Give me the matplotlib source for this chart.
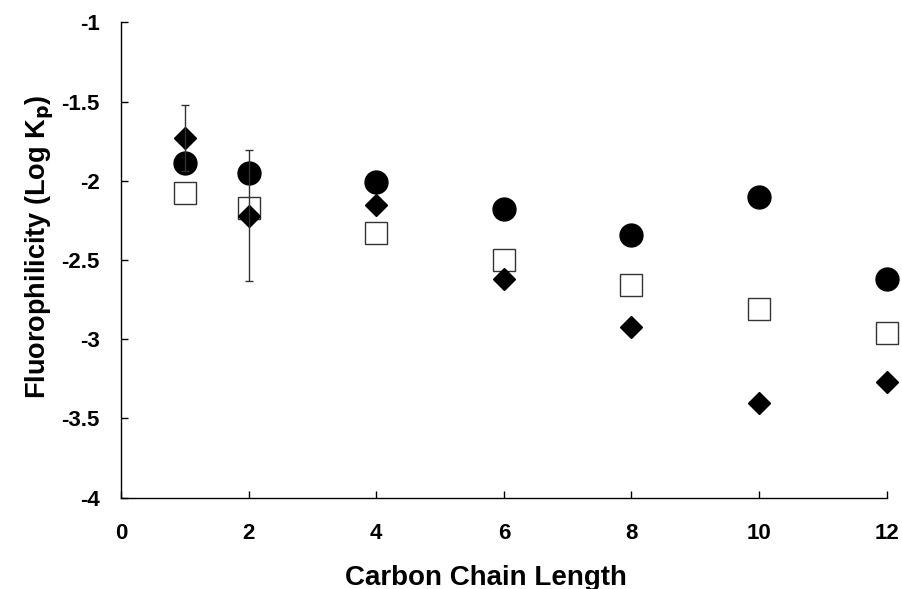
import matplotlib.pyplot as plt
import numpy as np

plt.rcParams['font.family'] = ['Liberation Sans', 'DejaVu Sans']
plt.rcParams['font.weight'] = 'bold'

# carbon chain length
chain = [1, 2, 4, 6, 8, 10, 12]

# log Kp for the three series
circles = [-1.89, -1.95, -2.01, -2.18, -2.34, -2.10, -2.62]
squares = [-2.08, -2.17, -2.33, -2.50, -2.66, -2.81, -2.96]
diamonds = [-1.73, -2.22, -2.15, -2.62, -2.92, -3.40, -3.27]
diamond_err = [0.21, 0.415, 0, 0, 0, 0, 0]

fig = plt.figure(figsize=(9.03, 5.89), dpi=100)
ax = fig.add_axes([0.134, 0.155, 0.848, 0.807])

ax.plot(chain, circles, 'o', color='black', ms=16.5, zorder=3, clip_on=False)
ax.plot(chain, squares, 's', mfc='white', mec='#333333', mew=1.0, ms=16,
        zorder=3, clip_on=False)
ax.plot(chain, diamonds, 'D', color='black', ms=11, zorder=3, clip_on=False)
# error bars only where there is a spread
err_x = [c for c, e in zip(chain, diamond_err) if e > 0]
err_y = [d for d, e in zip(diamonds, diamond_err) if e > 0]
err_e = [e for e in diamond_err if e > 0]
ax.errorbar(err_x, err_y, yerr=err_e, fmt='none', ecolor='#333333',
            elinewidth=1, capsize=3, capthick=1, zorder=4)

ax.set_xlim(0, 12)
ax.set_ylim(-4, -1)
ax.set_xticks(np.arange(0, 13, 2))
ax.set_yticks(np.arange(-4, -0.9, 0.5))
ax.set_yticklabels(['-4', '-3.5', '-3', '-2.5', '-2', '-1.5', '-1'])

for s in ['top', 'right']:
    ax.spines[s].set_visible(False)
for s in ['left', 'bottom']:
    ax.spines[s].set_linewidth(1.0)

ax.tick_params(direction='in', length=5, width=1, labelsize=16)
ax.tick_params(axis='x', pad=18)
ax.tick_params(axis='y', pad=15.5)

ax.set_xlabel('Carbon Chain Length', fontsize=20, fontweight='bold')
ax.set_ylabel(r'Fluorophilicity (Log K$_\mathbf{p}$)', fontsize=19.5,
              fontweight='bold')
ax.xaxis.set_label_coords(0.476, -0.141)
ax.yaxis.set_label_coords(-0.085, 0.527)

fig.savefig('out.png', dpi=100)
